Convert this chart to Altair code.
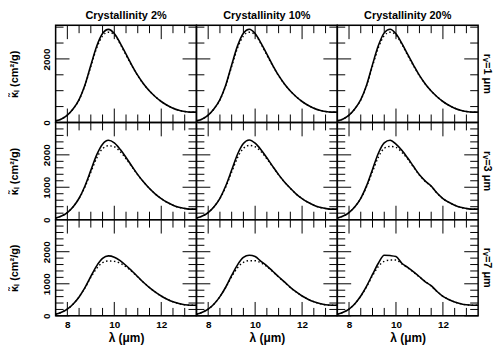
import altair as alt
import pandas as pd

# wavelength grid (micron)
LAM = [7.5, 7.75, 8.0, 8.25, 8.5, 8.75, 9.0, 9.25, 9.5, 9.75, 10.0, 10.25, 10.5,
       10.75, 11.0, 11.25, 11.5, 11.75, 12.0, 12.25, 12.5, 12.75, 13.0, 13.25, 13.5]

COL_TITLES = ["Crystallinity 2%", "Crystallinity 10%", "Crystallinity 20%"]
ROW_LABELS = ["r\u1d65=1 \u03bcm", "r\u1d65=3 \u03bcm", "r\u1d65=7 \u03bcm"]

# r_v = 1 um
R1_C2_SOLID = [50, 110, 230, 430, 720, 1180, 1800, 2400, 2800, 2930, 2800, 2500, 2150, 1800, 1480, 1210, 990, 810, 660, 540, 450, 385, 345, 325, 325]
R1_C2_DOT = [50, 110, 230, 430, 710, 1160, 1760, 2340, 2720, 2840, 2760, 2470, 2120, 1780, 1470, 1205, 990, 810, 660, 540, 450, 385, 345, 325, 325]
R1_C10_SOLID = [50, 110, 230, 430, 720, 1180, 1810, 2410, 2810, 2935, 2800, 2500, 2150, 1800, 1480, 1210, 990, 810, 660, 540, 450, 385, 345, 325, 325]
R1_C10_DOT = [50, 110, 230, 430, 710, 1160, 1760, 2340, 2720, 2840, 2760, 2470, 2120, 1780, 1470, 1205, 990, 810, 660, 540, 450, 385, 345, 325, 325]
R1_C20_SOLID = [50, 110, 230, 430, 720, 1180, 1820, 2420, 2820, 2935, 2790, 2490, 2140, 1800, 1480, 1210, 990, 810, 660, 540, 450, 385, 345, 325, 325]
R1_C20_DOT = [50, 110, 230, 430, 710, 1160, 1770, 2350, 2730, 2840, 2750, 2460, 2110, 1780, 1470, 1205, 990, 810, 660, 540, 450, 385, 345, 325, 325]

# r_v = 3 um
R3_C2_SOLID = [50, 110, 220, 400, 660, 1040, 1520, 2000, 2330, 2450, 2370, 2170, 1920, 1650, 1390, 1160, 960, 790, 650, 535, 445, 380, 345, 325, 325]
R3_C2_DOT = [50, 110, 220, 400, 650, 1010, 1460, 1900, 2190, 2280, 2250, 2100, 1880, 1630, 1380, 1160, 960, 790, 650, 535, 445, 380, 345, 325, 325]
R3_C10_SOLID = [50, 110, 220, 400, 660, 1045, 1530, 2020, 2350, 2460, 2360, 2160, 1910, 1645, 1390, 1165, 970, 790, 650, 535, 445, 380, 345, 325, 325]
R3_C10_DOT = [50, 110, 220, 400, 650, 1010, 1465, 1910, 2200, 2290, 2250, 2100, 1875, 1630, 1380, 1160, 965, 790, 650, 535, 445, 380, 345, 325, 325]
R3_C20_SOLID = [50, 110, 220, 400, 660, 1050, 1550, 2050, 2370, 2450, 2330, 2140, 1900, 1640, 1385, 1190, 1040, 820, 650, 535, 445, 380, 345, 325, 325]
R3_C20_DOT = [50, 110, 220, 400, 650, 1020, 1480, 1930, 2200, 2260, 2230, 2080, 1870, 1620, 1375, 1180, 1030, 815, 650, 535, 445, 380, 345, 325, 325]

# r_v = 7 um
R7_C2_SOLID = [50, 110, 210, 370, 590, 880, 1230, 1560, 1790, 1870, 1830, 1720, 1570, 1400, 1220, 1040, 880, 740, 620, 520, 440, 385, 345, 330, 330]
R7_C2_DOT = [50, 110, 210, 370, 590, 870, 1200, 1480, 1660, 1710, 1700, 1640, 1530, 1380, 1210, 1040, 880, 740, 620, 520, 440, 385, 345, 330, 330]
R7_C10_SOLID = [50, 110, 210, 370, 600, 900, 1260, 1590, 1820, 1890, 1850, 1700, 1560, 1390, 1220, 1060, 890, 745, 620, 520, 440, 385, 345, 330, 330]
R7_C10_DOT = [50, 110, 210, 370, 600, 890, 1220, 1500, 1670, 1720, 1720, 1650, 1540, 1380, 1210, 1050, 885, 745, 620, 520, 440, 385, 345, 330, 330]
R7_C20_SOLID = [50, 110, 210, 380, 620, 930, 1290, 1640, 1890, 1880, 1850, 1640, 1510, 1370, 1220, 1060, 940, 760, 610, 510, 430, 380, 345, 330, 330]
R7_C20_DOT = [50, 110, 210, 380, 610, 910, 1250, 1540, 1700, 1740, 1740, 1620, 1500, 1360, 1210, 1070, 930, 760, 610, 510, 430, 380, 345, 330, 330]

SERIES = [
    [(R1_C2_SOLID, R1_C2_DOT), (R1_C10_SOLID, R1_C10_DOT), (R1_C20_SOLID, R1_C20_DOT)],
    [(R3_C2_SOLID, R3_C2_DOT), (R3_C10_SOLID, R3_C10_DOT), (R3_C20_SOLID, R3_C20_DOT)],
    [(R7_C2_SOLID, R7_C2_DOT), (R7_C10_SOLID, R7_C10_DOT), (R7_C20_SOLID, R7_C20_DOT)],
]

X_DOMAIN = [7.5, 13.5]
X_MAJOR = [8, 10, 12]
X_MINOR = [8.5, 9, 9.5, 10.5, 11, 11.5, 12.5, 13]
Y_MAX = [3060, 3000, 3000]
Y_MAJOR = [[0, 2000], [0, 1000, 2000], [0, 1000, 2000]]
Y_MINOR = [[500, 1000, 1500, 2500, 3000],
           [200, 400, 600, 800, 1200, 1400, 1600, 1800, 2200, 2400, 2600, 2800],
           [200, 400, 600, 800, 1200, 1400, 1600, 1800, 2200, 2400, 2600, 2800]]

W = 142
HEIGHTS = [98, 98, 97]
MAJ_SIZE = 196   # symbol area -> ~7 px tick
MIN_SIZE = 64    # ~4 px tick
FONT = "Liberation Sans"


def tick_layer(df, xfield, yfield, shape, size, xsc, ysc, xaxis, yaxis):
    return alt.Chart(df).mark_point(shape=shape, size=size, filled=False,
                                    stroke="black", strokeWidth=1, opacity=1).encode(
        x=alt.X(xfield + ":Q", scale=xsc, axis=xaxis),
        y=alt.Y(yfield + ":Q", scale=ysc, axis=yaxis))


def panel(i, j):
    H = HEIGHTS[i]
    solid, dot = SERIES[i][j]
    df = pd.DataFrame({"lam": LAM, "solid": solid, "dotted": dot})
    xsc = alt.Scale(domain=X_DOMAIN, nice=False, zero=False)
    ysc = alt.Scale(domain=[0, Y_MAX[i]], nice=False, zero=False)

    if i == 2:
        xaxis = alt.Axis(values=X_MAJOR, ticks=False, domain=False, grid=False,
                         labelFont=FONT, labelFontWeight="bold", labelFontSize=10,
                         labelPadding=4, labelColor="black",
                         title="\u03bb (\u03bcm)", titleFont=FONT, titleFontWeight="bold",
                         titleFontSize=12, titlePadding=3, titleColor="black")
    else:
        xaxis = None
    if j == 0:
        yaxis = alt.Axis(values=Y_MAJOR[i], format="d", ticks=False, domain=False,
                         grid=False, labelFont=FONT, labelFontWeight="bold",
                         labelFontSize=10, labelAngle=270, labelAlign="center",
                         labelBaseline="bottom", labelPadding=4, labelColor="black",
                         title="\u03ba\u0303\u2097 (cm\u00b2/g)", titleFont=FONT,
                         titleFontWeight="bold", titleFontSize=11, titlePadding=22,
                         titleColor="black")
    else:
        yaxis = None

    layers = []
    lines = alt.Chart(df)
    layers.append(lines.mark_line(color="black", strokeWidth=1.4, strokeDash=[1.5, 2.5],
                                  interpolate="monotone").encode(
        x=alt.X("lam:Q", scale=xsc, axis=xaxis),
        y=alt.Y("dotted:Q", scale=ysc, axis=yaxis)))
    layers.append(lines.mark_line(color="black", strokeWidth=1.6,
                                  interpolate="monotone").encode(
        x=alt.X("lam:Q", scale=xsc, axis=xaxis),
        y=alt.Y("solid:Q", scale=ysc, axis=yaxis)))

    # inward ticks on all four edges, drawn as one-sided line symbols
    for vals, size in ((Y_MAJOR[i], MAJ_SIZE), (Y_MINOR[i], MIN_SIZE)):
        left = pd.DataFrame({"v": vals, "edge": [X_DOMAIN[0]] * len(vals)})
        right = pd.DataFrame({"v": vals, "edge": [X_DOMAIN[1]] * len(vals)})
        layers.append(tick_layer(left, "edge", "v", "M0,0H2", size, xsc, ysc, xaxis, yaxis))
        layers.append(tick_layer(right, "edge", "v", "M0,0H-2", size, xsc, ysc, xaxis, yaxis))
    for vals, size in ((X_MAJOR, MAJ_SIZE), (X_MINOR, MIN_SIZE)):
        top = pd.DataFrame({"t": vals, "edge": [Y_MAX[i]] * len(vals)})
        bottom = pd.DataFrame({"t": vals, "edge": [0] * len(vals)})
        layers.append(tick_layer(top, "t", "edge", "M0,0V2", size, xsc, ysc, xaxis, yaxis))
        layers.append(tick_layer(bottom, "t", "edge", "M0,0V-2", size, xsc, ysc, xaxis, yaxis))

    # panel frame
    fdf = pd.DataFrame({"f": [1]})
    layers.append(alt.Chart(fdf).mark_rect(fill="transparent", stroke="black",
                                           strokeWidth=1.5).encode(
        x=alt.value(0), x2=alt.value(W), y=alt.value(0), y2=alt.value(H)))

    if j == 2:
        ldf = pd.DataFrame({"lab": [ROW_LABELS[i]]})
        layers.append(alt.Chart(ldf).mark_text(angle=90, font=FONT, fontSize=11,
                                               fontWeight="bold", color="black").encode(
            text="lab:N", x=alt.value(W + 9), y=alt.value(H / 2)))

    ch = alt.layer(*layers).properties(width=W, height=H)
    if i == 0:
        ch = ch.properties(title=alt.TitleParams(COL_TITLES[j], font=FONT, fontSize=11,
                                                 fontWeight="bold", color="black",
                                                 offset=2, anchor="middle"))
    return ch


panels = [panel(i, j) for i in range(3) for j in range(3)]
chart = alt.concat(*panels, columns=3, spacing=0, bounds="flush").properties(
    padding=0
).configure(background="white")

chart.save("out.html", embed_options={"renderer": "svg", "actions": False})
